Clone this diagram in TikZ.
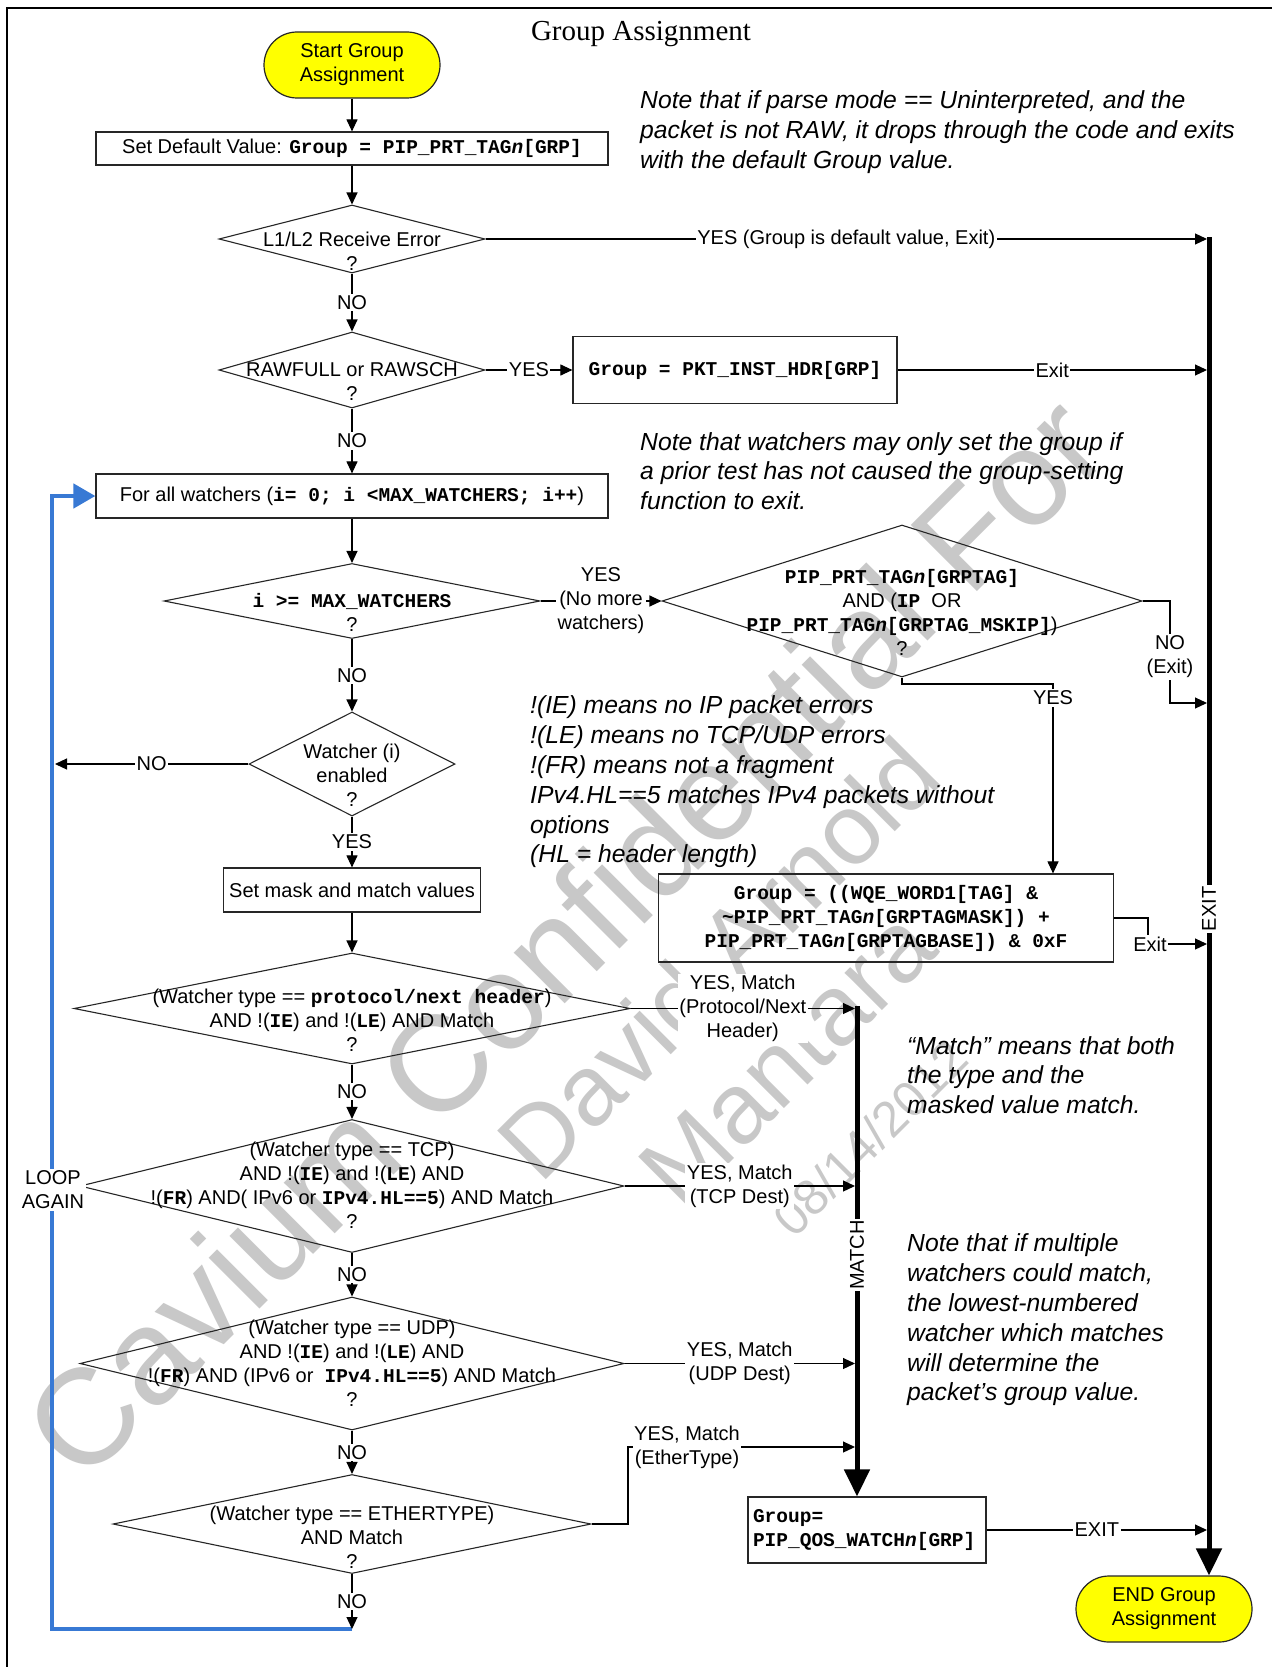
\documentclass[tikz,border=0pt]{standalone}
\usepackage{fontspec}
\setmainfont{Liberation Sans}
\newfontfamily\ttlfont{Liberation Serif}
\newfontfamily\courfont{Liberation Mono}
\usetikzlibrary{arrows.meta,shapes.geometric,shapes.misc}
\definecolor{loopblue}{RGB}{56,121,212}
\definecolor{wmgray}{RGB}{200,200,200}
\definecolor{termyellow}{RGB}{255,255,0}
\newcommand{\cb}[1]{{\courfont\bfseries\fontsize{19.5}{24}\selectfont #1}}
\newcommand{\cbn}{{\itshape n}}
\tikzset{
  txt/.style={font=\fontsize{20}{24}\selectfont, align=center, inner sep=0pt},
  note/.style={font=\fontsize{24.7}{29.8}\selectfont\itshape, align=left, anchor=west, inner sep=0pt},
  boxn/.style={draw=black!85, line width=1.2pt, inner sep=0pt, align=center, font=\fontsize{20}{24}\selectfont},
  dia/.style={draw=black!85, line width=1.1pt, diamond, inner sep=0pt},
  term/.style={draw=black!85, line width=1.2pt, fill=termyellow, rounded rectangle, inner sep=0pt, align=center, font=\fontsize{20}{24}\selectfont, minimum width=176pt, minimum height=66pt},
  lab/.style={fill=white, inner sep=1.5pt, align=center, font=\fontsize{20}{24}\selectfont},
  conn/.style={line width=1.1pt, -{Triangle[length=12pt,width=11pt]}},
  thickline/.style={line width=5pt, -{Triangle[length=27pt,width=25pt]}},
  loopline/.style={line width=4.5pt, draw=loopblue, line join=miter, -{Triangle[length=22pt,width=24pt]}},
  wm/.style={text=wmgray, rotate=45, inner sep=0pt},
}
\begin{document}
\begin{tikzpicture}[x=1pt,y=-1pt]
\useasboundingbox (0,0) rectangle (1272,1667);
\fill[white] (0,0) rectangle (1272,1667);

% watermark
\node[wm, font=\fontsize{136}{136}\selectfont] (wm1) at (564,936) {Cavium Confidential For};
\node[wm, font=\fontsize{100}{100}\selectfont] (wm2) at (718,958) {David Arnold};
\node[wm, font=\fontsize{100}{100}\selectfont] (wm3) at (787,1058) {Mantara};
\node[wm, font=\fontsize{50}{50}\selectfont] (wm4) at (870,1138) {08/14/2012};

% frame
\draw[line width=2pt] (7,1667) -- (7,8) -- (1272,8);

\node[font=\ttlfont\fontsize{29}{34}\selectfont] (title) at (641,34) {Group Assignment};

% nodes
\node[term] (start) at (352,65) {Start Group\\Assignment};
\node[boxn, minimum width=512pt, minimum height=33pt] (setdef) at (352,148.5) {Set Default Value: \cb{Group = PIP\_PRT\_TAG\cbn[GRP]}};

\node[dia, minimum width=266pt, minimum height=68pt] (d1) at (352,239) {};
\node[txt] (d1t) at (352,251) {L1/L2 Receive Error\\?};

\node[dia, minimum width=266pt, minimum height=76pt] (d2) at (352,370) {};
\node[txt] (d2t) at (352,382) {RAWFULL or RAWSCH\\?};

\node[boxn, minimum width=324pt, minimum height=67pt] (pkt) at (735,370) {\cb{Group = PKT\_INST\_HDR[GRP]}};

\node[boxn, minimum width=512pt, minimum height=44pt] (forb) at (352,496) {For all watchers (\cb{i= 0; i <MAX\_WATCHERS; i++})};

\node[dia, minimum width=376pt, minimum height=75pt] (d3) at (352,601) {};
\node[txt] (d3t) at (352,612.5) {\cb{i >= MAX\_WATCHERS}\\?};

\node[dia, minimum width=480pt, minimum height=152pt] (d4) at (902,601) {};
\node[txt] (d4t) at (902,612) {\cb{PIP\_PRT\_TAG\cbn[GRPTAG]}\\AND (\cb{IP}\ \ OR\\\cb{PIP\_PRT\_TAG\cbn[GRPTAG\_MSKIP]})\\?};

\node[dia, minimum width=206pt, minimum height=104pt] (d5) at (352,764) {};
\node[txt] (d5t) at (352,775) {Watcher (i)\\enabled\\?};

\node[boxn, minimum width=257pt, minimum height=44pt] (mask) at (352,890) {Set mask and match values};

\node[dia, minimum width=556pt, minimum height=111pt] (d6) at (352,1008.5) {};
\node[txt] (d6t) at (352,1020) {(Watcher type == \cb{protocol/next header})\\AND !(\cb{IE}) and !(\cb{LE}) AND Match\\?};

\node[dia, minimum width=544pt, minimum height=133pt] (d7) at (352,1186) {};
\node[txt] (d7t) at (352,1185) {(Watcher type == TCP)\\AND !(\cb{IE}) and !(\cb{LE}) AND\\!(\cb{FR}) AND( IPv6 or \cb{IPv4.HL==5}) AND Match\\?};

\node[dia, minimum width=544pt, minimum height=133pt] (d8) at (352,1363.5) {};
\node[txt] (d8t) at (352,1363) {(Watcher type == UDP)\\AND !(\cb{IE}) and !(\cb{LE}) AND\\!(\cb{FR}) AND (IPv6 or\ \ \cb{IPv4.HL==5}) AND Match\\?};

\node[dia, minimum width=478pt, minimum height=99pt] (d9) at (352,1524) {};
\node[txt] (d9t) at (352,1537) {(Watcher type == ETHERTYPE)\\AND Match\\?};

\node[boxn, minimum width=455pt, minimum height=88pt] (wqe) at (886,918) {\cb{Group = ((WQE\_WORD1[TAG] \&}\\\cb{\textasciitilde PIP\_PRT\_TAG\cbn[GRPTAGMASK]) +}\\\cb{PIP\_PRT\_TAG\cbn[GRPTAGBASE]) \& 0xF}};

\node[boxn, minimum width=238pt, minimum height=66pt, text width=228pt, align=left] (qos) at (867,1530) {\cb{Group=}\\\cb{PIP\_QOS\_WATCH\cbn[GRP]}};

\node[term] (endt) at (1164,1609) {END Group\\Assignment};

% notes
\node[note] (n1) at (640,132) {Note that if parse mode == Uninterpreted, and the\\packet is not RAW, it drops through the code and exits\\with the default Group value.};
\node[note] (n2) at (640,471) {Note that watchers may only set the group if\\a prior test has not caused the group-setting\\function to exit.};
\node[note] (n3) at (530,782) {!(IE) means no IP packet errors\\!(LE) means no TCP/UDP errors\\!(FR) means not a fragment\\IPv4.HL==5 matches IPv4 packets without\\options\\(HL = header length)};
\node[note] (n4) at (907,1075) {“Match” means that both\\the type and the\\masked value match.};
\node[note] (n5) at (907,1320) {Note that if multiple\\watchers could match,\\the lowest-numbered\\watcher which matches\\will determine the\\packet’s group value.};

% coordinates
\coordinate (xtop) at (1209,237);
\coordinate (xx) at (1207,0);
\coordinate (mtop) at (857,1006);
\coordinate (mx) at (855,0);
\coordinate (yx) at (1053,0);
\coordinate (loopc) at (352,1629);
\coordinate (bl) at (52,1629);
\coordinate (blx) at (55,0);

% thick lines
\draw[thickline] (xtop) -- (xtop |- endt.north);
\draw[thickline] (mtop) -- (mtop |- qos.north);
\node[lab, rotate=90] (xlab) at (1209,909) {EXIT};
\node[lab, rotate=90] (mlab) at (857,1255) {MATCH};

% loop
\draw[loopline] (loopc) -- (bl) -- (bl |- forb.west) -- (forb.west);
\node[lab] (loop) at (53,1190) {LOOP\\AGAIN};

% connectors
\draw[conn] (start.south) -- (setdef.north);
\draw[conn] (setdef.south) -- (d1.north);
\draw[conn] (d1.east) -- node[lab] (l1y) {YES (Group is default value, Exit)} (d1.east -| xx);
\draw[conn] (d1.south) -- node[lab] (l1n) {NO} (d2.north);
\draw[conn] (d2.east) -- node[lab] (l2y) {YES} (pkt.west);
\draw[conn] (pkt.east) -- node[lab] (l2e) {Exit} (pkt.east -| xx);
\draw[conn] (d2.south) -- node[lab] (l2n) {NO} (forb.north);
\draw[conn] (forb.south) -- (d3.north);
\draw[conn] (d3.east) -- node[lab] (l3y) {YES\\(No more\\watchers)} (d4.west);
\draw[conn] (d4.east) -- (1170,601) -- (1170,703) -- (1207,703);
\node[lab] (l4n) at (1170,657) {NO\\(Exit)};
\draw[conn] (d4.south) -- (902,684) -- (1053,684) -- (wqe.north -| yx);
\node[lab] (l4y) at (1053,698) {YES};
\draw[conn] (wqe.east) -- (1148,918) -- (1148,944) -- (1207,944);
\node[lab] (lwe) at (1150,944) {Exit};
\draw[conn] (d3.south) -- node[lab] (l3n) {NO} (d5.north);
\draw[conn] (d5.west) -- node[lab] (l5n) {NO} (d5.west -| blx);
\draw[conn] (d5.south) -- node[lab] (l5y) {YES} (mask.north);
\draw[conn] (mask.south) -- (d6.north);
\draw[conn] (d6.east) -- node[lab] (l6y) {YES, Match\\(Protocol/Next\\Header)} (d6.east -| mx);
\draw[conn] (d6.south) -- node[lab] (l6n) {NO} (d7.north);
\draw[conn] (d7.east) -- node[lab] (l7y) {YES, Match\\(TCP Dest)} (d7.east -| mx);
\draw[conn] (d7.south) -- node[lab] (l7n) {NO} (d8.north);
\draw[conn] (d8.east) -- node[lab] (l8y) {YES, Match\\(UDP Dest)} (d8.east -| mx);
\draw[conn] (d8.south) -- node[lab] (l8n) {NO} (d9.north);
\draw[conn] (d9.east) -- (628,1524) -- (628,1447) -- (855,1447);
\node[lab] (l9y) at (687,1447) {YES, Match\\(EtherType)};
\draw[conn] (d9.south) -- node[lab] (l9n) {NO} (loopc);
\draw[conn] (qos.east) -- node[lab] (lqe) {EXIT} (qos.east -| xx);
\end{tikzpicture}
\end{document}
